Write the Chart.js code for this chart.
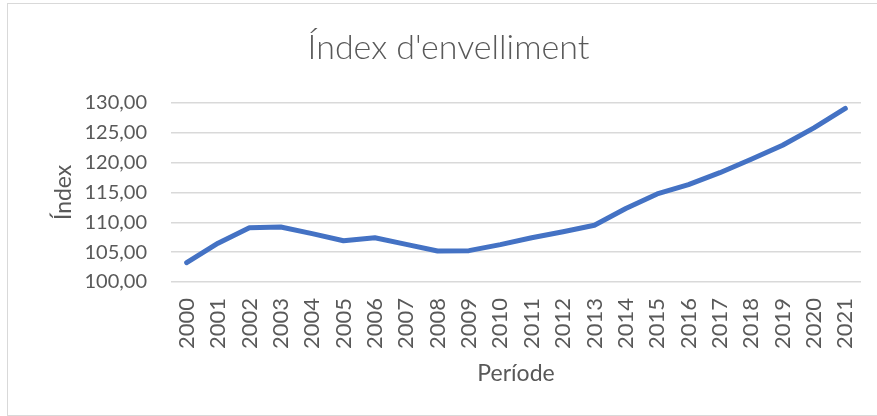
<!DOCTYPE html>
<html>
<head>
<meta charset="utf-8">
<script src="https://cdn.jsdelivr.net/npm/chart.js@4/dist/chart.umd.min.js"></script>
<style>
  html, body { margin: 0; padding: 0; background: #ffffff; }
  #wrap { width: 877px; height: 416px; position: relative; }
</style>
</head>
<body>
<div id="wrap"><canvas id="c" width="877" height="416"></canvas></div>
<script>
const categories = ["2000","2001","2002","2003","2004","2005","2006","2007","2008","2009","2010","2011","2012","2013","2014","2015","2016","2017","2018","2019","2020","2021"];
const indexValues = [103.25,106.5,109.1,109.2,108.1,106.9,107.4,106.3,105.2,105.25,106.25,107.4,108.4,109.5,112.3,114.75,116.3,118.3,120.55,122.9,125.8,129.05];
const yTicks = [100,105,110,115,120,125,130];
const chartTitle = "Índex d'envelliment";
const xTitle = "Període";
const yTitle = "Índex";

const FONT = "Lato, 'Open Sans', sans-serif";
const TEXT = "#595959";

const borderPlugin = {
  id: 'outerBorder',
  beforeDraw(chart) {
    const ctx = chart.ctx;
    ctx.save();
    ctx.fillStyle = '#ffffff';
    ctx.fillRect(0, 0, chart.width, chart.height);
    ctx.strokeStyle = '#d9d9d9';
    ctx.lineWidth = 1;
    ctx.strokeRect(7.5, 3.5, chart.width, chart.height - 4);
    ctx.restore();
  }
};

new Chart(document.getElementById('c'), {
  type: 'line',
  data: {
    labels: categories,
    datasets: [{
      label: yTitle,
      data: indexValues,
      borderColor: '#4472C4',
      backgroundColor: '#4472C4',
      borderWidth: 5,
      borderCapStyle: 'round',
      borderJoinStyle: 'round',
      pointRadius: 0,
      tension: 0,
      fill: false
    }]
  },
  options: {
    responsive: false,
    animation: false,
    layout: { padding: { left: 36, right: 16, top: 0, bottom: 0 } },
    plugins: {
      legend: { display: false },
      tooltip: { enabled: false },
      title: {
        display: true,
        text: chartTitle,
        color: TEXT,
        font: { family: FONT, size: 34, weight: '300' },
        padding: { top: 28, bottom: 34 }
      }
    },
    scales: {
      x: {
        type: 'category',
        offset: true,
        afterFit(scale) { scale.height = 134; scale.paddingLeft = 0; scale.paddingRight = 0; },
        grid: { display: false, drawTicks: false },
        border: { display: false },
        ticks: {
          color: TEXT,
          font: { family: FONT, size: 22 },
          minRotation: 90,
          maxRotation: 90,
          autoSkip: false,
          padding: 16
        },
        title: {
          display: true,
          text: xTitle,
          color: TEXT,
          font: { family: FONT, size: 23 },
          padding: { top: 0, bottom: 29 }
        }
      },
      y: {
        min: 100,
        max: 130,
        afterBuildTicks(scale) { scale.ticks = yTicks.map(v => ({ value: v })); },
        afterFit(scale) { scale.width = 171 - 36; scale.paddingTop = 0; scale.paddingBottom = 0; },
        grid: { color: '#d9d9d9', lineWidth: 1.5, drawTicks: false },
        border: { display: false },
        ticks: {
          color: TEXT,
          font: { family: FONT, size: 20 },
          padding: 24,
          callback: (v) => Number(v).toFixed(2).replace('.', ',')
        },
        title: {
          display: true,
          text: yTitle,
          color: TEXT,
          font: { family: FONT, size: 23 },
          padding: { top: 14, bottom: 0 }
        }
      }
    }
  },
  plugins: [borderPlugin]
});
</script>
</body>
</html>
